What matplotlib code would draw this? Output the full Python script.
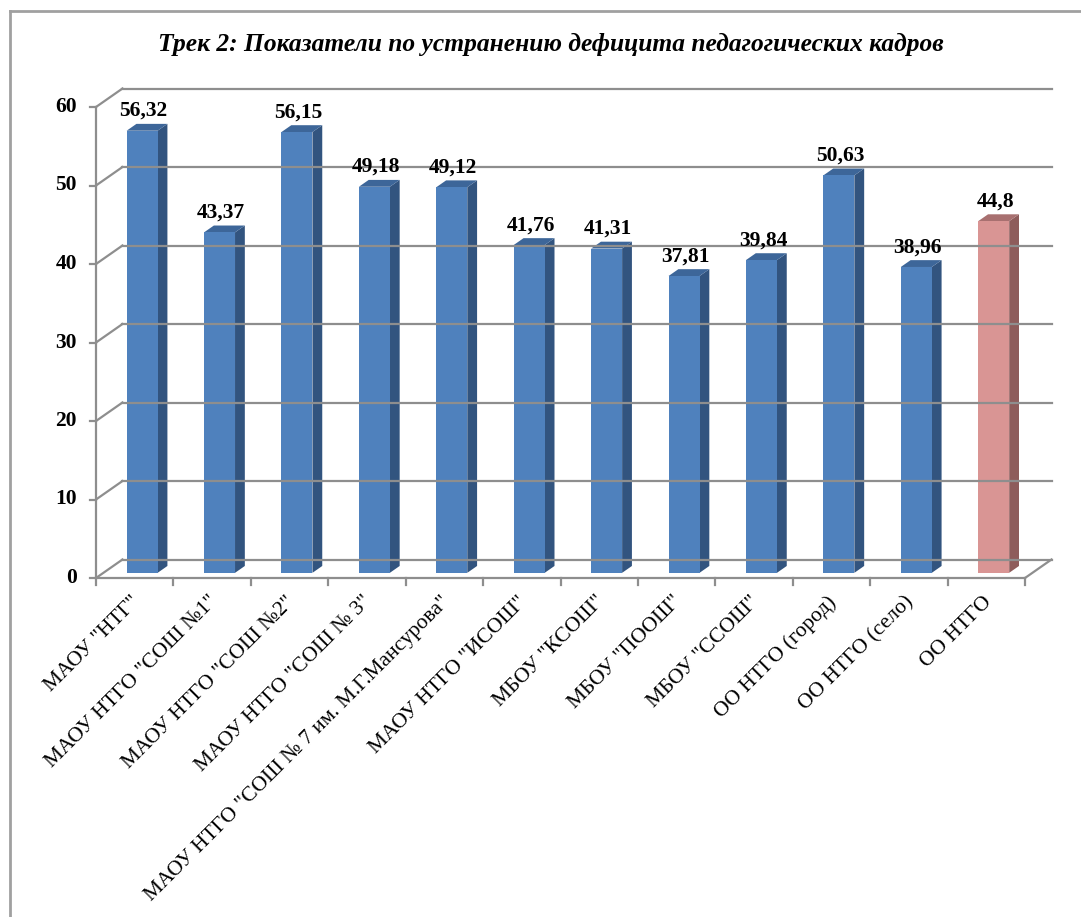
import matplotlib.pyplot as plt
from matplotlib.patches import Polygon

plt.rcParams['font.family'] = ['Liberation Serif', 'DejaVu Serif']

title = 'Трек 2: Показатели по устранению дефицита педагогических кадров'
categories = ['МАОУ "НТГ"', 'МАОУ НТГО "СОШ №1"', 'МАОУ НТГО "СОШ №2"',
              'МАОУ НТГО "СОШ № 3"', 'МАОУ НТГО "СОШ № 7 им. М.Г.Мансурова"',
              'МАОУ НТГО "ИСОШ"', 'МБОУ "КСОШ"', 'МБОУ "ПООШ"', 'МБОУ "ССОШ"',
              'ОО НТГО (город)', 'ОО НТГО (село)', 'ОО НТГО']
values = [56.32, 43.37, 56.15, 49.18, 49.12, 41.76, 41.31, 37.81, 39.84, 50.63, 38.96, 44.8]
labels = ['56,32', '43,37', '56,15', '49,18', '49,12', '41,76', '41,31', '37,81',
          '39,84', '50,63', '38,96', '44,8']
yticks = [0, 10, 20, 30, 40, 50, 60]

# цвета: лицевая грань, верх, бок
blue = ('#4F81BD', '#3D6699', '#32547F')
pink = ('#D99594', '#A87070', '#8E5C5B')

W, H = 1081, 917
fig = plt.figure(figsize=(W / 100, H / 100), dpi=100)
# передняя ось: x 96..1025 px, y 0 -> 578 px, 60 -> 107 px
ax = fig.add_axes([96 / W, (H - 578) / H, 929 / W, 471 / H])
n = len(categories)
ax.set_xlim(-0.5, n - 0.5)
ax.set_ylim(0, 60)
ax.axis('off')

px_x = 929 / n
px_y = 471 / 60
Dx = 26.5 / px_x     # глубина по x
Dy = 18.5 / px_y     # глубина по y
f0, fd = 0.28, 0.37  # положение и толщина столбика в глубину
bw = 0.2

grid = '#8E8E8E'
lw = 1.6

# стенки и пол
ax.plot([-0.5, -0.5], [0, 60], color=grid, lw=lw, clip_on=False)
for t in yticks:
    ax.plot([-0.5, -0.5 + Dx], [t, t + Dy], color=grid, lw=lw, clip_on=False)
    ax.plot([-0.5 + Dx, n - 0.5 + Dx], [t + Dy, t + Dy], color=grid, lw=lw, clip_on=False)
    ax.plot([-0.5 - 6 / px_x, -0.5], [t, t], color=grid, lw=lw, clip_on=False)
    ax.text(-0.5 - 19 / px_x, t, str(t), ha='right', va='center',
            fontsize=15.5, fontweight='bold')
ax.plot([-0.5, n - 0.5], [0, 0], color=grid, lw=lw, clip_on=False)
ax.plot([n - 0.5, n - 0.5 + Dx], [0, Dy], color=grid, lw=lw, clip_on=False)
for i in range(n + 1):
    ax.plot([i - 0.5, i - 0.5], [0, -7 / px_y], color=grid, lw=lw, clip_on=False)

# столбики
for i, v in enumerate(values):
    front, top, side = pink if i == n - 1 else blue
    x0 = i - bw + f0 * Dx
    x1 = i + bw + f0 * Dx
    y0 = f0 * Dy
    y1 = v + f0 * Dy
    ddx, ddy = fd * Dx, fd * Dy
    ax.add_patch(Polygon([(x1, y0), (x1 + ddx, y0 + ddy), (x1 + ddx, y1 + ddy), (x1, y1)],
                         closed=True, facecolor=side, edgecolor='none', clip_on=False))
    ax.add_patch(Polygon([(x0, y1), (x1, y1), (x1 + ddx, y1 + ddy), (x0 + ddx, y1 + ddy)],
                         closed=True, facecolor=top, edgecolor='none', clip_on=False))
    ax.bar(x0, v, width=x1 - x0, bottom=y0, align='edge', color=front,
           edgecolor='none', clip_on=False)
    ax.text((x0 + x1) / 2 + 0.02, y1 + ddy + 3 / px_y, labels[i], ha='center', va='bottom',
            fontsize=15.5, fontweight='bold')

# подписи категорий
for i, c in enumerate(categories):
    ax.text(i + 0.03, -2.7, c, rotation=45, ha='right', va='center',
            rotation_mode='anchor', fontsize=15.5)

fig.text(551 / W, 1 - 44 / H, title, ha='center', va='center',
         fontsize=18.4, fontweight='bold', fontstyle='italic')

# рамка области диаграммы
fig.add_artist(plt.Line2D([10 / W, 10 / W], [0, 1 - 11 / H], color='#A0A0A0', lw=2))
fig.add_artist(plt.Line2D([10 / W, 1], [1 - 11 / H, 1 - 11 / H], color='#A0A0A0', lw=2))

fig.savefig('out.png', dpi=100)
